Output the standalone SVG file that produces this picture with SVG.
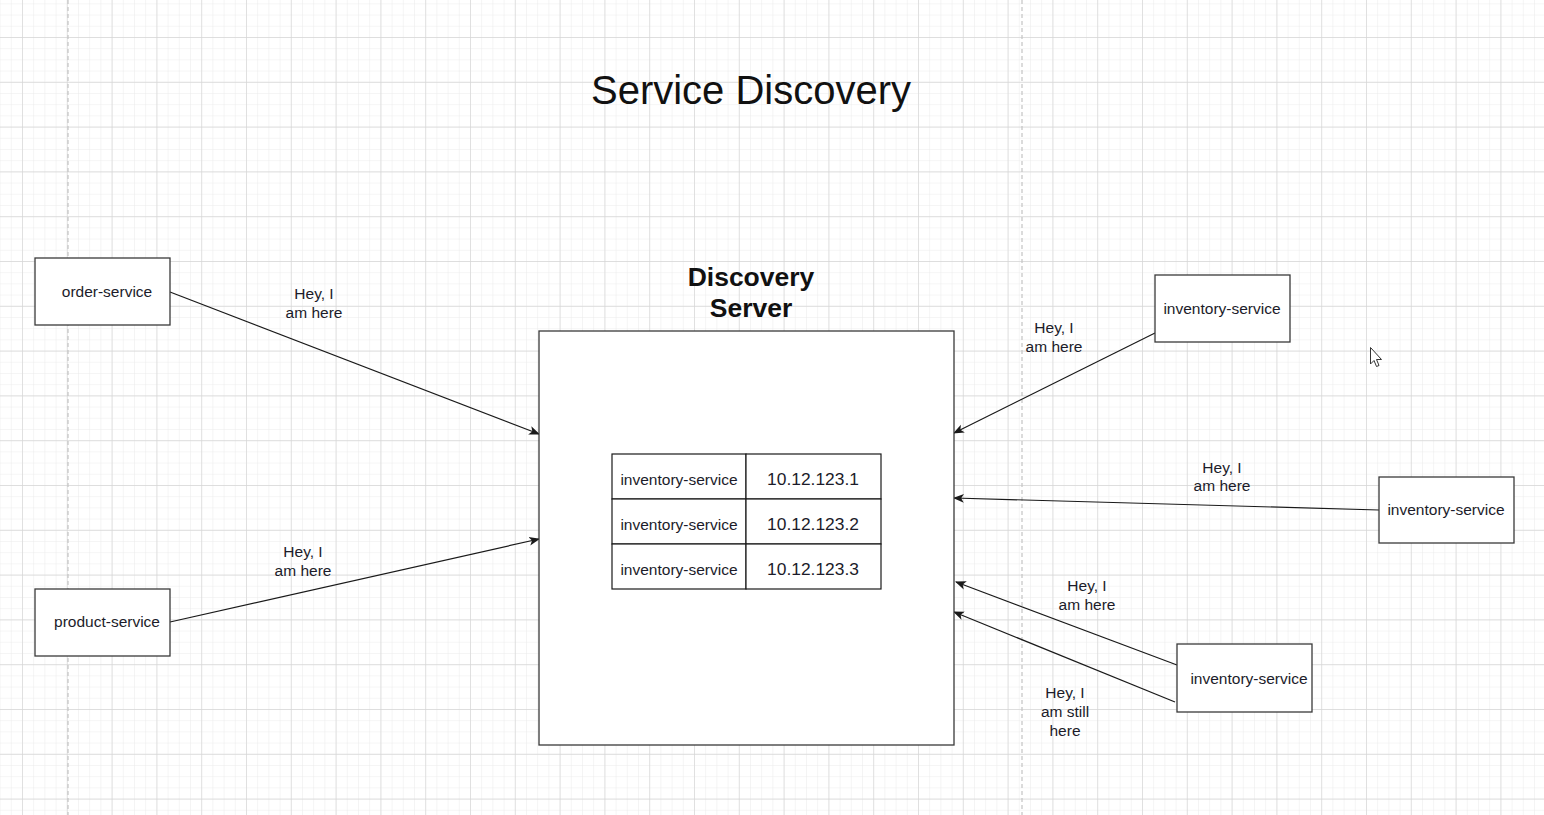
<svg xmlns="http://www.w3.org/2000/svg" width="1544" height="815" viewBox="0 0 1544 815">
<style>
  .box{fill:#ffffff;stroke:#3a3a3a;stroke-width:1.3}
  .cell{fill:#ffffff;stroke:#1a1a1a;stroke-width:1.2}
  .t{font-family:"Liberation Sans",Arial,sans-serif;font-size:15.5px;fill:#1c1c2a;text-anchor:middle}
  .ip{font-family:"Liberation Sans",Arial,sans-serif;font-size:17.4px;fill:#1c1c2a;text-anchor:middle}
  .edge{stroke:#1a1a1a;stroke-width:1.2;fill:none;marker-end:url(#arr)}
</style>
<defs>
  <pattern id="minor" patternUnits="userSpaceOnUse" x="22" y="37" width="11.2" height="11.2">
    <path d="M0,0 H11.2 M0,0 V11.2" stroke="#ebebeb" stroke-width="1" fill="none"/>
  </pattern>
  <pattern id="major" patternUnits="userSpaceOnUse" x="22" y="37" width="44.8" height="44.8">
    <path d="M0,0 H44.8 M0,0 V44.8" stroke="#d6d6d6" stroke-width="1.3" fill="none"/>
  </pattern>
  <marker id="arr" viewBox="0 0 10 10" refX="9" refY="5" markerWidth="11" markerHeight="11" markerUnits="userSpaceOnUse" orient="auto">
    <path d="M0,1 L10,5 L0,9 L2.5,5 z" fill="#1a1a1a"/>
  </marker>
</defs>
<rect width="1544" height="815" fill="#ffffff"/>
<rect width="1544" height="815" fill="url(#minor)"/>
<rect width="1544" height="815" fill="url(#major)"/>
<line x1="68" y1="0" x2="68" y2="815" stroke="#c4c4c4" stroke-width="1.2" stroke-dasharray="4 3"/>
<line x1="1022" y1="0" x2="1022" y2="815" stroke="#c4c4c4" stroke-width="1.2" stroke-dasharray="4 3"/>

<g id="title">
  <text x="751" y="104" font-family="Liberation Sans, Arial, sans-serif" font-size="40" fill="#111111" text-anchor="middle">Service Discovery</text>
</g>

<g id="edges">
  <line class="edge" x1="170" y1="292" x2="539" y2="434"/>
  <line class="edge" x1="170" y1="622" x2="539" y2="539"/>
  <line class="edge" x1="1155" y1="333" x2="954" y2="433"/>
  <line class="edge" x1="1379" y1="510" x2="954" y2="498"/>
  <line class="edge" x1="1177" y1="665" x2="956" y2="582"/>
  <line class="edge" x1="1175" y1="702" x2="954" y2="612"/>
</g>

<g id="edge-labels">
  <text class="t" x="314" y="299">Hey, I</text>
  <text class="t" x="314" y="318">am here</text>
  <text class="t" x="303" y="557">Hey, I</text>
  <text class="t" x="303" y="576">am here</text>
  <text class="t" x="1054" y="333">Hey, I</text>
  <text class="t" x="1054" y="352">am here</text>
  <text class="t" x="1222" y="473">Hey, I</text>
  <text class="t" x="1222" y="491">am here</text>
  <text class="t" x="1087" y="591">Hey, I</text>
  <text class="t" x="1087" y="610">am here</text>
  <text class="t" x="1065" y="698">Hey, I</text>
  <text class="t" x="1065" y="717">am still</text>
  <text class="t" x="1065" y="736">here</text>
</g>

<g id="order-service">
  <rect class="box" x="35" y="258" width="135" height="67"/>
  <text class="t" x="107" y="297">order-service</text>
</g>
<g id="product-service">
  <rect class="box" x="35" y="589" width="135" height="67"/>
  <text class="t" x="107" y="627">product-service</text>
</g>

<g id="discovery-server">
  <text x="751" y="286" font-family="Liberation Sans, Arial, sans-serif" font-size="26.5" font-weight="bold" fill="#111111" text-anchor="middle">Discovery</text>
  <text x="751" y="317" font-family="Liberation Sans, Arial, sans-serif" font-size="26.5" font-weight="bold" fill="#111111" text-anchor="middle">Server</text>
  <rect class="box" x="539" y="331" width="415" height="414"/>
</g>

<g id="registry-table">
  <rect class="cell" x="612" y="454" width="134" height="45"/>
  <rect class="cell" x="746" y="454" width="135" height="45"/>
  <rect class="cell" x="612" y="499" width="134" height="45"/>
  <rect class="cell" x="746" y="499" width="135" height="45"/>
  <rect class="cell" x="612" y="544" width="134" height="45"/>
  <rect class="cell" x="746" y="544" width="135" height="45"/>
  <text class="t" x="679" y="485">inventory-service</text>
  <text class="t" x="679" y="530">inventory-service</text>
  <text class="t" x="679" y="575">inventory-service</text>
  <text class="ip" x="813" y="485">10.12.123.1</text>
  <text class="ip" x="813" y="530">10.12.123.2</text>
  <text class="ip" x="813" y="575">10.12.123.3</text>
</g>

<g id="inventory-service-1">
  <rect class="box" x="1155" y="275" width="135" height="67"/>
  <text class="t" x="1222" y="314">inventory-service</text>
</g>
<g id="inventory-service-2">
  <rect class="box" x="1379" y="477" width="135" height="66"/>
  <text class="t" x="1446" y="515">inventory-service</text>
</g>
<g id="inventory-service-3">
  <rect class="box" x="1177" y="644" width="135" height="68"/>
  <text class="t" x="1249" y="684">inventory-service</text>
</g>

<g id="cursor">
  <path d="M1370.5,347.5 L1370.5,364 L1374,360.5 L1376.5,366.5 L1379,365.5 L1376.5,359.5 L1381.5,359.5 Z" fill="#ffffff" stroke="#333333" stroke-width="1"/>
</g>
</svg>
